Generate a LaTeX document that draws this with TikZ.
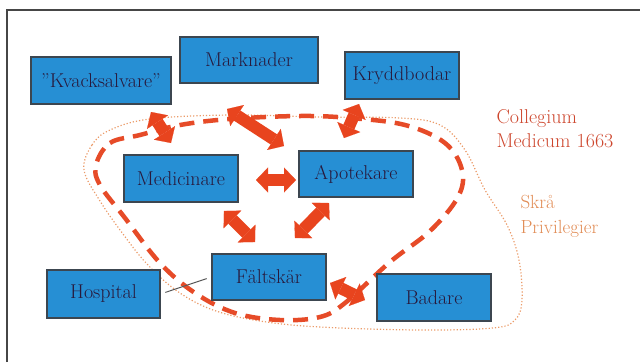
\documentclass[tikz,border=0pt]{standalone}
\usepackage{fontspec}
\usetikzlibrary{arrows.meta}

\definecolor{boxblue}{RGB}{38,143,212}
\definecolor{boxline}{RGB}{60,70,80}
\definecolor{boxtext}{RGB}{40,25,60}
\definecolor{arrowred}{RGB}{232,68,30}
\definecolor{loopred}{RGB}{230,75,40}
\definecolor{dotorange}{RGB}{235,155,105}
\definecolor{colred}{RGB}{205,70,45}
\definecolor{skraorange}{RGB}{225,140,85}

\tikzset{
  guild/.style={draw=boxline, line width=1.2pt, fill=boxblue, text=boxtext,
    font=\fontsize{20}{24}\selectfont, inner sep=0pt, minimum width=114pt, minimum height=47pt},
  tie/.style={line width=12pt, draw=arrowred,
    {Triangle[width=25pt,length=12pt,line width=0.1pt]}-{Triangle[width=25pt,length=12pt,line width=0.1pt]}},
}

\begin{document}
\begin{tikzpicture}[x=1pt,y=-1pt]
\useasboundingbox (0,0) rectangle (640,362);

%Frame lines
\draw [line width=2pt, color={rgb,255:red,70;green,70;blue,70}] (7,362) -- (7,9.5) -- (640,9.5);

%Shape: dotted loop (Skrå)
\draw [dotorange, line width=1.2pt, dotted] plot [smooth cycle, tension=0.6] coordinates {
  (84,170) (92,145) (110,130) (150,119) (230,115) (320,117) (400,118) (440,125)
  (465,150) (485,190) (507,225) (519,260) (522,300) (515,320) (493,328) (420,330)
  (320,327) (260,321) (213,310) (177,291) (147,264) (123,234) (100,201)};

%Shape: dashed loop (Collegium)
\draw [loopred, line width=4.5pt, dash pattern={on 15pt off 9pt}] plot [smooth cycle, tension=0.6] coordinates {
  (96,165) (110,143) (140,135) (180,125) (230,119) (300,116) (350,118) (405,125)
  (445,143) (462,170) (458,197) (430,231) (390,262) (345,303) (320,317) (280,320)
  (235,313) (195,293) (160,263) (125,218) (100,185)};

% Boxes
\node [guild, minimum width=140pt] (kvack) at (101,80.5) {"Kvacksalvare"};
\node [guild, minimum width=138pt, minimum height=46pt] (markn) at (249,60) {Marknader};
\node [guild] (krydd) at (402,75.5) {Kryddbodar};
\node [guild] (medic) at (181,178.5) {Medicinare};
\node [guild, minimum height=46pt] (apot) at (356,174) {Apotekare};
\node [guild, minimum width=113pt, minimum height=48pt] (hosp) at (103.5,294) {Hospital};
\node [guild, minimum height=46pt] (falt) at (269,277) {Fältskär};
\node [guild] (badare) at (434,297.5) {Badare};

%Straight Lines: hospital link
\draw [color={rgb,255:red,90;green,90;blue,90}, line width=1pt, shorten <=5pt, shorten >=5pt] (hosp.east) -- (falt.west);

% Arrow ends
\coordinate (kv1) at (151,112);
\coordinate (kv2) at (171,143);
\coordinate (ma1) at (227,109);
\coordinate (ma2) at (284,146);
\coordinate (kr1) at (359,104);
\coordinate (kr2) at (344,138);
\coordinate (me1) at (256,180);
\coordinate (ap1) at (296,180);
\coordinate (me2) at (224,211);
\coordinate (fa1) at (255,242);
\coordinate (ap2) at (329,203);
\coordinate (fa2) at (295,238);
\coordinate (fa3) at (330,283);
\coordinate (ba1) at (365,300);

%Double arrows
\draw [tie] (kv1) -- (kv2);
\draw [tie] (ma1) -- (ma2);
\draw [tie] (kr1) -- (kr2);
\draw [tie] (me1) -- (ap1);
\draw [tie] (me2) -- (fa1);
\draw [tie] (ap2) -- (fa2);
\draw [tie] (fa3) -- (ba1);

% Text Node
\node [anchor=base west, align=left, text=colred, font=\fontsize{20}{24}\selectfont] (colleg) at (493,147) {Collegium\\Medicum 1663};
% Text Node
\node [anchor=base west, align=left, text=skraorange, font=\fontsize{19}{25}\selectfont] (skra) at (517,233) {Skrå\\Privilegier};

\end{tikzpicture}
\end{document}
